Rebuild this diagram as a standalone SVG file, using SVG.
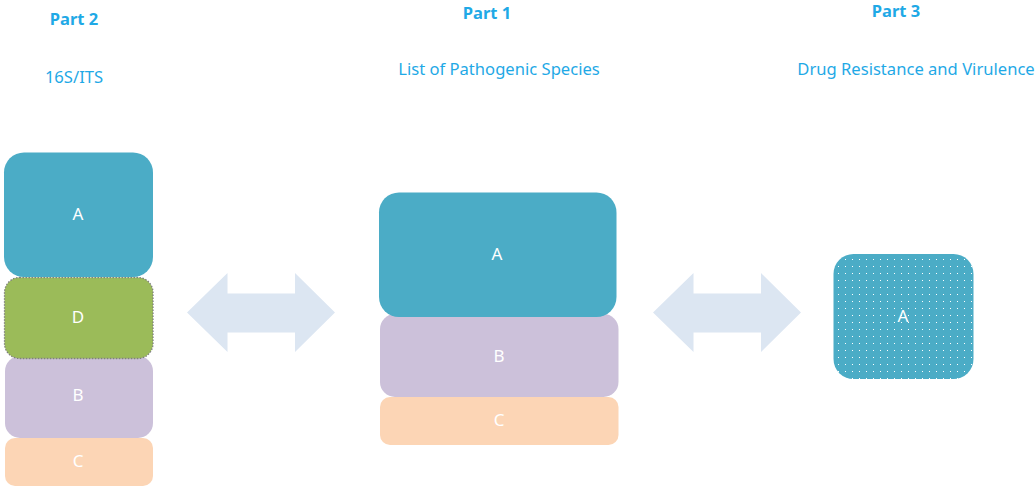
<svg xmlns="http://www.w3.org/2000/svg" width="1036" height="489" viewBox="0 0 1036 489">
<style>
.t{font-family:"Noto Sans","Open Sans",sans-serif;fill:#1fa9e6;text-anchor:middle}
.h{font-size:16.5px;font-weight:bold}
.s{font-size:16.6px}
.l{font-family:"Noto Sans","Open Sans",sans-serif;font-size:17px;fill:#ffffff;text-anchor:middle}
.a{fill:#4bacc6}.d{fill:#9bbb59;stroke:#7f7f7f;stroke-width:1.3;stroke-dasharray:1.5 1.5}.b{fill:#ccc1da}.c{fill:#fcd5b5}
.arr{fill:#dce6f2}
</style>
<defs>
<pattern id="dots" width="7" height="7" patternUnits="userSpaceOnUse" x="835" y="256">
<rect width="7" height="7" fill="#4bacc6"/>
<rect x="3" y="3" width="1" height="1" fill="#ffffff"/>
</pattern>
</defs>
<g id="titles">
<text class="t h" x="74" y="25">Part 2</text>
<text class="t s" x="74" y="83">16S/ITS</text>
<text class="t h" x="487" y="19">Part 1</text>
<text class="t s" x="499" y="75">List of Pathogenic Species</text>
<text class="t h" x="896" y="17">Part 3</text>
<text class="t s" x="916" y="75">Drug Resistance and Virulence</text>
</g>
<g id="part2">
<g id="p2-C"><rect class="c" x="5" y="438" width="148" height="48" rx="10"/><text class="l" x="78" y="467">C</text></g>
<g id="p2-B"><rect class="b" x="5" y="356" width="148" height="82" rx="15"/><text class="l" x="78" y="401">B</text></g>
<g id="p2-D"><rect class="d" x="4.5" y="277.5" width="148.5" height="81" rx="15"/><text class="l" x="78" y="323">D</text></g>
<g id="p2-A"><rect class="a" x="4" y="152.5" width="149" height="124.5" rx="20"/><text class="l" x="78" y="220">A</text></g>
</g>
<g id="part1">
<g id="p1-C"><rect class="c" x="380" y="397" width="238.5" height="48" rx="10"/><text class="l" x="499" y="426">C</text></g>
<g id="p1-B"><rect class="b" x="380" y="314" width="238.5" height="83" rx="15"/><text class="l" x="499" y="362">B</text></g>
<g id="p1-A"><rect class="a" x="379" y="192.5" width="237.5" height="124.5" rx="20"/><text class="l" x="497" y="260">A</text></g>
</g>
<g id="part3">
<g id="p3-A"><rect x="833.5" y="254" width="140" height="125" rx="20" fill="url(#dots)"/><text class="l" x="903" y="322">A</text></g>
</g>
<g id="connectors">
<polygon class="arr" points="187,312.5 227.5,273 227.5,293.5 295,293.5 295,273 335,312.5 295,352 295,332.5 227.5,332.5 227.5,352"/>
<polygon class="arr" points="653,312.5 693.5,273 693.5,293.5 761,293.5 761,273 801,312.5 761,352 761,332.5 693.5,332.5 693.5,352"/>
</g>
</svg>
